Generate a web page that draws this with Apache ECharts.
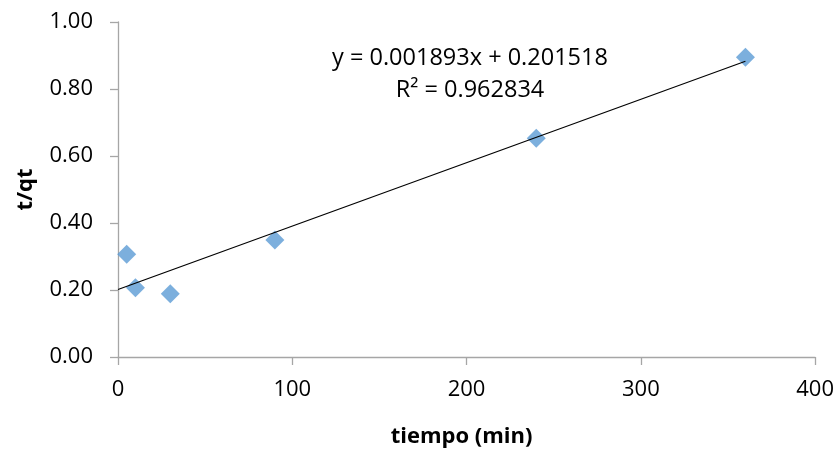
<!DOCTYPE html>
<html>
<head>
<meta charset="utf-8">
<script src="https://cdn.jsdelivr.net/npm/echarts@6/dist/echarts.min.js"></script>
<style>
  html, body { margin: 0; padding: 0; background: #fff; }
  #chart { width: 837px; height: 453px; }
</style>
</head>
<body>
<div id="chart"></div>
<script>
// Measured time (min) and t/qt values
const tiempo = [5, 10, 30, 90, 240, 360];
const tqt = [0.307, 0.207, 0.189, 0.349, 0.653, 0.895];

// Linear fit coefficients and the span the fit line covers
const slope = 0.001893;
const intercept = 0.201518;
const r2 = 0.962834;
const fitX = [0, 360];

const xTicks = [0, 100, 200, 300, 400];
const yTicks = [0, 0.2, 0.4, 0.6, 0.8, 1.0];

const fitLine = fitX.map(x => [x, slope * x + intercept]);
const points = tiempo.map((t, i) => [t, tqt[i]]);

const font = '"Open Sans", "Noto Sans", sans-serif';
const axisGray = '#A6A6A6';

const chart = echarts.init(document.getElementById('chart'), null, { renderer: 'canvas' });
chart.setOption({
  animation: false,
  backgroundColor: '#fff',
  grid: { left: 118, right: 21, top: 22, bottom: 94, containLabel: false },
  xAxis: {
    type: 'value',
    min: xTicks[0],
    max: xTicks[xTicks.length - 1],
    interval: 100,
    name: 'tiempo (min)',
    nameLocation: 'middle',
    nameGap: 69,
    nameTextStyle: { fontFamily: font, fontSize: 22, fontWeight: 'bold', color: '#000', padding: [0, 10, 0, 0] },
    axisLine: { show: true, lineStyle: { color: axisGray, width: 1.3 } },
    axisTick: { show: true, inside: false, length: 8, lineStyle: { color: axisGray, width: 1.3 } },
    axisLabel: { fontFamily: font, fontSize: 22, color: '#000', margin: 22 },
    splitLine: { show: false }
  },
  yAxis: {
    type: 'value',
    min: yTicks[0],
    max: yTicks[yTicks.length - 1],
    interval: 0.2,
    name: 't/qt',
    nameLocation: 'middle',
    nameGap: 81,
    nameRotate: 90,
    nameTextStyle: { fontFamily: font, fontSize: 22, fontWeight: 'bold', color: '#000' },
    axisLine: { show: true, lineStyle: { color: axisGray, width: 1.3 } },
    axisTick: { show: true, inside: false, length: 8, lineStyle: { color: axisGray, width: 1.3 } },
    axisLabel: {
      fontFamily: font, fontSize: 22, color: '#000', margin: 25,
      formatter: v => v.toFixed(2)
    },
    splitLine: { show: false }
  },
  series: [
    {
      type: 'scatter',
      data: points,
      symbol: 'diamond',
      symbolSize: 19,
      itemStyle: { color: '#5B9BD5' },
      z: 2
    },
    {
      type: 'line',
      data: fitLine,
      symbol: 'none',
      lineStyle: { color: '#000', width: 1.2 },
      z: 3
    }
  ],
  graphic: [
    {
      type: 'text',
      style: {
        text: 'y = ' + slope.toFixed(6) + 'x + ' + intercept.toFixed(6),
        fontFamily: font, fontSize: 23.5, fill: '#000',
        x: 470, y: 58,
        align: 'center', verticalAlign: 'middle'
      }
    },
    {
      type: 'text',
      style: {
        text: 'R² = ' + r2.toFixed(6),
        fontFamily: font, fontSize: 23.5, fill: '#000',
        x: 470, y: 90,
        align: 'center', verticalAlign: 'middle'
      }
    }
  ]
});
</script>
</body>
</html>
